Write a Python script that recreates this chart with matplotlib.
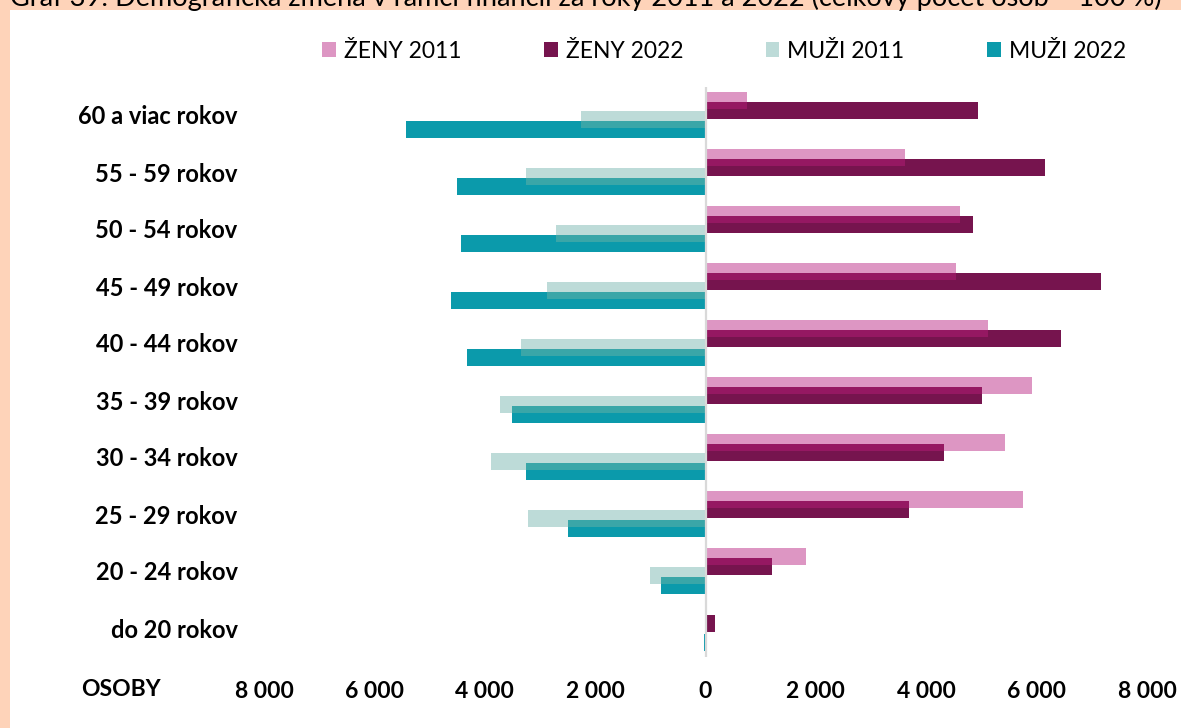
import matplotlib
matplotlib.use("Agg")
import matplotlib.pyplot as plt
from matplotlib.patches import Rectangle
from matplotlib.ticker import FuncFormatter
import numpy as np

plt.rcParams['font.family'] = ['Lato', 'DejaVu Sans']

# vekove skupiny (zhora nadol)
kategorie = ['60 a viac rokov', '55 - 59 rokov', '50 - 54 rokov', '45 - 49 rokov',
             '40 - 44 rokov', '35 - 39 rokov', '30 - 34 rokov', '25 - 29 rokov',
             '20 - 24 rokov', 'do 20 rokov']
zeny_2011 = [760, 3610, 4620, 4540, 5110, 5920, 5430, 5750, 1830, 30]
zeny_2022 = [4930, 6150, 4840, 7160, 6450, 5010, 4320, 3690, 1200, 180]
muzi_2011 = [2250, 3260, 2700, 2870, 3340, 3730, 3880, 3210, 1000, 10]
muzi_2022 = [5430, 4510, 4430, 4620, 4330, 3510, 3250, 2490, 810, 30]
tick_hodnoty = [-8000, -6000, -4000, -2000, 0, 2000, 4000, 6000, 8000]

farba_z11 = '#dd96c3'
farba_z22 = '#76144e'
farba_z_prekryv = '#951862'
farba_m11 = '#bddbd8'
farba_m22 = '#0b9aab'
farba_m_prekryv = '#3aa6a8'

W, H = 1181, 728
fig = plt.figure(figsize=(W / 100, H / 100), dpi=100, facecolor='#fed3b9')
fig.patches.append(Rectangle((10 / W, 0), 1, 1 - 10 / H, transform=fig.transFigure,
                             facecolor='white', edgecolor='none', zorder=-5))

ax = fig.add_axes([264 / W, 1 - 656.5 / H, (1147 - 264) / W, (656.5 - 86.5) / H])
ax.set_facecolor('none')
ax.set_zorder(2)

y = np.arange(len(kategorie))
vyska = 0.29
krok = 0.167
off = np.array([-1.5, -0.5, 0.5, 1.5]) * krok

z11 = np.array(zeny_2011)
z22 = np.array(zeny_2022)
m11 = -np.array(muzi_2011)
m22 = -np.array(muzi_2022)

h1 = ax.barh(y + off[0], z11, height=vyska, color=farba_z11, label='ŽENY 2011', zorder=2)
h2 = ax.barh(y + off[1], z22, height=vyska, color=farba_z22, label='ŽENY 2022', zorder=2)
h3 = ax.barh(y + off[2], m11, height=vyska, color=farba_m11, label='MUŽI 2011', zorder=2)
h4 = ax.barh(y + off[3], m22, height=vyska, color=farba_m22, label='MUŽI 2022', zorder=2)

# prekryvajuce sa casti stlpcov
prekryv = vyska - krok
ax.barh(y + (off[0] + off[1]) / 2, np.minimum(z11, z22), height=prekryv,
        color=farba_z_prekryv, zorder=3)
ax.barh(y + (off[2] + off[3]) / 2, -np.minimum(-m11, -m22), height=prekryv,
        color=farba_m_prekryv, zorder=3)

ax.axvline(0, color='#d9d9d9', lw=1.6, zorder=4)

ax.set_xlim(-8000, 8000)
ax.set_ylim(len(kategorie) - 0.5, -0.5)
ax.set_xticks(tick_hodnoty)
ax.xaxis.set_major_formatter(FuncFormatter(lambda v, p: f'{abs(int(v)):,}'.replace(',', ' ')))
ax.set_yticks(y)
ax.set_yticklabels(kategorie)
ax.tick_params(axis='x', length=0, labelsize=16.5, pad=18)
ax.tick_params(axis='y', length=0, labelsize=17, pad=19)
for t in ax.get_xticklabels() + ax.get_yticklabels():
    t.set_fontweight('bold')
for s in ax.spines.values():
    s.set_visible(False)

fig.text(121 / W, 1 - 690 / H, 'OSOBY', ha='center', va='center',
         fontsize=16.5, fontweight='bold')

fig.text(10 / W, 1 - 6 / H,
         'Graf 39: Demografická zmena v rámci financií za roky 2011 a 2022 (celkový počet osôb = 100 %)',
         ha='left', va='baseline', fontsize=19.5)

ax.legend(handles=[h1, h2, h3, h4], loc='center', bbox_to_anchor=(724 / W, 1 - 51 / H),
          bbox_transform=fig.transFigure, ncol=4, frameon=False, fontsize=16.5,
          handlelength=0.6, handleheight=0.6, handletextpad=0.35, columnspacing=3.6,
          borderpad=0)

fig.savefig('out.png', dpi=100, facecolor=fig.get_facecolor())
